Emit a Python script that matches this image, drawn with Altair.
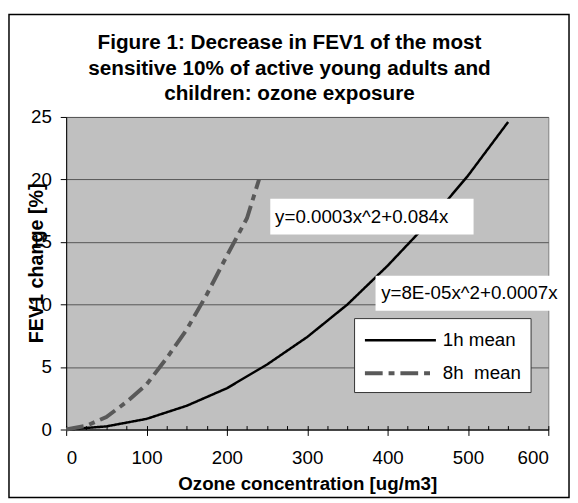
import altair as alt
import pandas as pd

# ---- data ----
x_1h = [0, 50, 100, 150, 200, 250, 300, 350, 400, 450, 500, 550]
y_1h = [0, 0.25, 0.85, 1.9, 3.3, 5.2, 7.4, 10.0, 13.1, 16.5, 20.3, 24.6]
x_8h = [0, 25, 50, 75, 100, 125, 150, 175, 200, 225, 240]
y_8h = [0, 0.3, 1.0, 2.2, 3.6, 5.7, 8.0, 10.8, 13.9, 16.9, 20.0]
series_names = ["1h mean", "8h\u00a0 mean"]

x_ticks = [0, 100, 200, 300, 400, 500, 600]
x_minor = list(range(0, 601, 25))
y_ticks = [0, 5, 10, 15, 20, 25]

title_lines = [
    "Figure 1: Decrease in FEV1 of the most",
    "sensitive 10% of active young adults and",
    "children: ozone exposure",
]
x_title = "Ozone concentration [ug/m3]"
y_title = "FEV1 change [%]"

eq_texts = ["y=0.0003x^2+0.084x", "y=8E-05x^2+0.0007x"]
eq_x = [260, 392]
eq_y = [17.0, 10.9]
box_x1 = [254, 385]
box_x2 = [507, 626]
box_y1 = [15.6, 9.5]
box_y2 = [18.45, 12.3]

FONT = "Liberation Sans"

df_lines = pd.concat([
    pd.DataFrame({"x": x_1h, "y": y_1h, "series": series_names[0], "o": range(len(x_1h))}),
    pd.DataFrame({"x": x_8h, "y": y_8h, "series": series_names[1], "o": range(len(x_8h))}),
])
df_eq = pd.DataFrame({"t": eq_texts, "ex": eq_x, "ey": eq_y})
df_box = pd.DataFrame({"bx1": box_x1, "bx2": box_x2, "by1": box_y1, "by2": box_y2})
df_one = pd.DataFrame({"k": [0]})

xscale = alt.Scale(domain=[0, 600], nice=False, zero=False)
yscale = alt.Scale(domain=[0, 25], nice=False)

legend = alt.Legend(
    title=None, orient="none", legendX=292, legendY=204,
    fillColor="white", strokeColor="#333333", padding=9,
    symbolType="M-1,0H5", symbolSize=576, labelOffset=53,
    labelFont=FONT, labelFontSize=19, labelColor="black", rowPadding=9,
)

lines = alt.Chart(df_lines).mark_line().encode(
    x=alt.X("x:Q", scale=xscale, axis=alt.Axis(
        values=x_ticks, tickSize=6, tickColor="black", domainColor="black",
        labelFont=FONT, labelFontSize=19, labelColor="black", labelPadding=13,
        title=x_title, titleFont=FONT, titleFontSize=19, titleFontWeight="bold",
        titleColor="black", titlePadding=8, grid=False)),
    y=alt.Y("y:Q", scale=yscale, axis=alt.Axis(
        values=y_ticks, tickSize=6, tickColor="black", domainColor="black",
        labelFont=FONT, labelFontSize=19, labelColor="black", labelPadding=9,
        grid=True, gridColor="#555555", gridWidth=1,
        title=y_title, titleFont=FONT, titleFontSize=20, titleFontWeight="bold",
        titleColor="black", titleX=-30, titleY=148, titleAngle=-90,
        titleAlign="center", titleBaseline="middle")),
    color=alt.Color("series:N", scale=alt.Scale(domain=series_names, range=["black", "#595959"]), legend=legend),
    strokeDash=alt.StrokeDash("series:N", scale=alt.Scale(domain=series_names, range=[[1, 0], [18, 6, 6, 6]]), legend=legend),
    strokeWidth=alt.StrokeWidth("series:N", scale=alt.Scale(domain=series_names, range=[2.5, 4]), legend=legend),
    order="o:Q",
)

boxes = alt.Chart(df_box).mark_rect(color="white").encode(
    x=alt.X("bx1:Q", scale=xscale, axis=alt.Axis(
        orient="bottom", values=x_minor, tickSize=4, offset=-4, tickColor="black",
        labels=False, domain=False, grid=False, title=None)),
    x2="bx2:Q",
    y=alt.Y("by1:Q", scale=yscale, axis=None),
    y2="by2:Q",
)

eqs = alt.Chart(df_eq).mark_text(align="left", baseline="middle", font=FONT, fontSize=19, color="black").encode(
    x=alt.X("ex:Q", scale=xscale, axis=None),
    y=alt.Y("ey:Q", scale=yscale, axis=None),
    text="t:N",
)

frame = alt.Chart(df_one).mark_rect(fillOpacity=0, stroke="black", strokeWidth=1.5).encode(
    x=alt.value(-58), x2=alt.value(510), y=alt.value(-104), y2=alt.value(386),
)

chart = alt.layer(lines, boxes, eqs, frame).resolve_axis(x="independent", y="independent").properties(
    width=489, height=317,
    padding={"left": 0, "top": 2, "right": 0, "bottom": 0},
    title=alt.TitleParams(text=title_lines, font=FONT, fontSize=21, fontWeight="bold",
                          color="black", lineHeight=26, anchor="middle", frame="group",
                          dx=-18, offset=-92),
).configure(background="white").configure_view(fill="#C0C0C0", stroke="#808080", strokeWidth=1)

chart.save("out.html", embed_options={"renderer": "svg", "actions": False})
